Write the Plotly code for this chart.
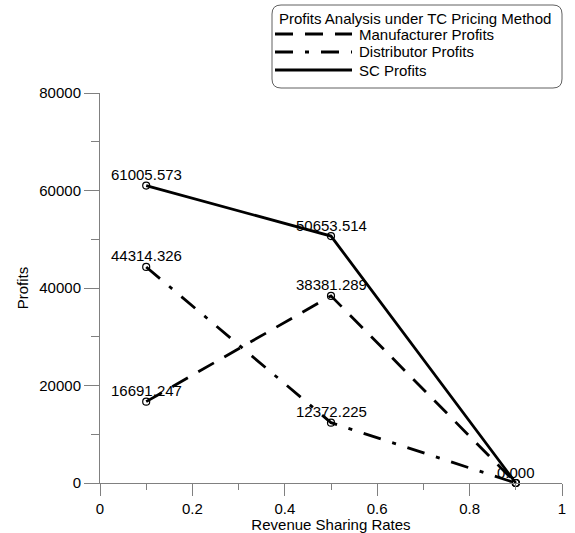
import plotly.graph_objects as go

rates = [0.1, 0.5, 0.9]
manufacturer = [16691.247, 38381.289, 0.0]
distributor = [44314.326, 12372.225, 0.0]
sc = [61005.573, 50653.514, 0.0]
legend_title = "Profits Analysis under TC Pricing Method"

series = [
    ("Manufacturer Profits", manufacturer, "18px,12px", [True, True, False]),
    ("Distributor Profits", distributor, "18px,12px,4px,12px", [True, True, False]),
    ("SC Profits", sc, "solid", [True, True, True]),
]

W, H = 575, 533
L, R, T, B = 100, 13, 93, 50
PW, PH = W - L - R, H - T - B


def px(x):
    return (x - L) / PW


def py(y):
    return (H - B - y) / PH


font = "Liberation Sans, Arial, sans-serif"
fig = go.Figure()
for name, vals, dash, show in series:
    fig.add_trace(go.Scatter(
        x=rates, y=vals, name=name, mode="lines+markers", showlegend=False,
        line=dict(color="black", width=2.8, dash=dash),
        marker=dict(symbol="circle-open", size=7, color="black", line=dict(width=1.2)),
        cliponaxis=False,
    ))
    for xv, v, s in zip(rates, vals, show):
        if s:
            fig.add_annotation(x=xv, y=v, text=f"{v:.3f}", showarrow=False,
                               xanchor="center", yanchor="middle", yshift=11,
                               font=dict(family=font, size=15, color="black"))

axis_common = dict(
    showline=True, linecolor="#808080", linewidth=1,
    ticks="outside", tickcolor="#808080", tickwidth=1,
    showgrid=False, zeroline=False,
    tickfont=dict(family=font, size=15, color="black"),
)
fig.update_xaxes(
    range=[0, 1], dtick=0.2, ticklen=12, tickformat="~g",
    minor=dict(dtick=0.1, ticks="outside", ticklen=6, tickcolor="#808080"),
    title=dict(text="Revenue Sharing Rates", font=dict(family=font, size=15, color="black"), standoff=0),
    **axis_common,
)
fig.update_yaxes(
    range=[0, 80000], dtick=20000, ticklen=15, tickformat="d",
    minor=dict(dtick=10000, ticks="outside", ticklen=8, tickcolor="#808080"),
    title=dict(text="Profits", font=dict(family=font, size=15, color="black"), standoff=7),
    **axis_common,
)

# legend box with rounded corners
x0, x1, y0, y1, r = 272, 562, 5, 88, 9
path = (
    f"M {px(x0 + r)},{py(y0)} L {px(x1 - r)},{py(y0)} Q {px(x1)},{py(y0)} {px(x1)},{py(y0 + r)} "
    f"L {px(x1)},{py(y1 - r)} Q {px(x1)},{py(y1)} {px(x1 - r)},{py(y1)} "
    f"L {px(x0 + r)},{py(y1)} Q {px(x0)},{py(y1)} {px(x0)},{py(y1 - r)} "
    f"L {px(x0)},{py(y0 + r)} Q {px(x0)},{py(y0)} {px(x0 + r)},{py(y0)} Z"
)
fig.add_shape(type="path", xref="paper", yref="paper", path=path,
              line=dict(color="#606060", width=1))
fig.add_annotation(xref="paper", yref="paper", x=px(277), y=py(18), text=legend_title,
                   showarrow=False, xanchor="left", yanchor="middle",
                   font=dict(family=font, size=15, color="black"))
for i, (name, vals, dash, show) in enumerate(series):
    yy = py(34 + i * 18)
    fig.add_shape(type="line", xref="paper", yref="paper",
                  x0=px(275), x1=px(352), y0=yy, y1=yy,
                  line=dict(color="black", width=2.8, dash=dash))
    fig.add_annotation(xref="paper", yref="paper", x=px(357), y=yy, text=name,
                       showarrow=False, xanchor="left", yanchor="middle",
                       font=dict(family=font, size=15, color="black"))

fig.update_layout(
    width=W, height=H,
    margin=dict(l=L, r=R, t=T, b=B, autoexpand=False),
    plot_bgcolor="white", paper_bgcolor="white",
    font=dict(family=font, size=15, color="black"),
    showlegend=False,
)
fig.write_html("out.html", config={"displayModeBar": False},
               post_script="document.body.style.margin='0';")
